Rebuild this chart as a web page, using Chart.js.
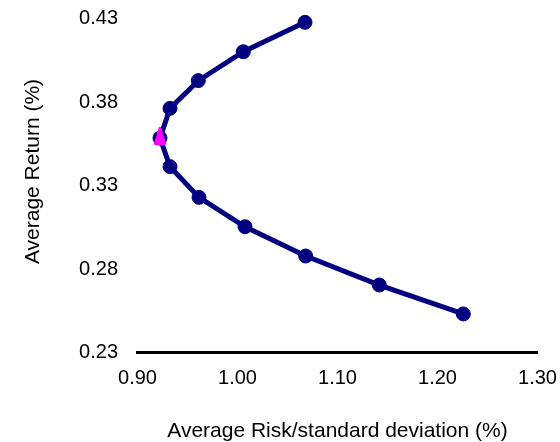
<!DOCTYPE html>
<html>
<head>
<meta charset="utf-8">
<script src="https://cdn.jsdelivr.net/npm/chart.js@4"></script>
<style>
  html, body { margin: 0; padding: 0; background: #ffffff; }
  #wrap { width: 560px; height: 442px; }
</style>
</head>
<body>
<div id="wrap"><canvas id="c" width="560" height="442"></canvas></div>
<script>
// ---- data ----
const riskValues   = [1.0675, 1.0058, 0.9608, 0.9325, 0.9225, 0.9325, 0.9615, 1.0075, 1.0682, 1.1418, 1.2258];
const returnValues = [0.4277, 0.4101, 0.3928, 0.3762, 0.3584, 0.3413, 0.3229, 0.3053, 0.2878, 0.2704, 0.2531];
const minVarRisk   = [0.9225];
const minVarReturn = [0.3584];
const xTickValues  = [0.90, 1.00, 1.10, 1.20, 1.30];
const yTickValues  = [0.23, 0.28, 0.33, 0.38, 0.43];
const xTitle = 'Average Risk/standard deviation (%)';
const yTitle = 'Average Return (%)';

const FONT = '"Liberation Sans", Arial, sans-serif';

// custom tall rounded triangle marker
function makeTriangle() {
  const cv = document.createElement('canvas');
  cv.width = 12; cv.height = 22;
  const g = cv.getContext('2d');
  g.fillStyle = '#FF00FF';
  g.strokeStyle = '#FF00FF';
  g.lineWidth = 3;
  g.lineJoin = 'round';
  g.beginPath();
  g.moveTo(6, 1.5);
  g.lineTo(10.5, 16.5);
  g.lineTo(1.5, 16.5);
  g.closePath();
  g.fill();
  g.stroke();
  return cv;
}

const lineData = riskValues.map((x, i) => ({ x: x, y: returnValues[i] }));
const minData = minVarRisk.map((x, i) => ({ x: x, y: minVarReturn[i] }));

const yTitlePlugin = {
  id: 'yTitle',
  afterDraw(chart) {
    const ctx = chart.ctx;
    ctx.save();
    ctx.translate(33, 171.5);
    ctx.rotate(-Math.PI / 2);
    ctx.font = '21px ' + FONT;
    ctx.fillStyle = '#000000';
    ctx.textAlign = 'center';
    ctx.textBaseline = 'middle';
    ctx.fillText(yTitle, 0, 0);
    ctx.restore();
  }
};

new Chart(document.getElementById('c'), {
  type: 'scatter',
  data: {
    datasets: [
      {
        label: 'Frontier',
        data: lineData,
        showLine: true,
        tension: 0,
        clip: false,
        borderColor: '#000080',
        borderWidth: 5,
        pointRadius: 7,
        pointHoverRadius: 7,
        pointBackgroundColor: '#000080',
        pointBorderColor: '#000080',
        pointBorderWidth: 1,
        order: 2
      },
      {
        label: 'Minimum variance',
        data: minData,
        showLine: false,
        clip: false,
        pointStyle: makeTriangle(),
        pointRadius: 7,
        order: 1
      }
    ]
  },
  options: {
    responsive: false,
    animation: false,
    events: [],
    layout: { autoPadding: false, padding: { left: 0, right: 22.5, top: 18.5, bottom: 0 } },
    plugins: {
      legend: { display: false },
      tooltip: { enabled: false },
      title: { display: false }
    },
    scales: {
      x: {
        type: 'linear',
        position: 'bottom',
        min: 0.9,
        max: 1.3,
        afterBuildTicks(axis) { axis.ticks = xTickValues.map(v => ({ value: v })); },
        afterFit(axis) {
          axis.height = 89.5;
          axis.paddingLeft = 0; axis.paddingRight = 0;
          axis.paddingTop = 0; axis.paddingBottom = 0;
        },
        grid: { display: false, drawTicks: false },
        border: { display: true, color: '#000000', width: 3 },
        ticks: {
          color: '#000000',
          font: { family: FONT, size: 20 },
          padding: 14,
          maxRotation: 0,
          autoSkip: false,
          callback: v => Number(v).toFixed(2)
        },
        title: {
          display: true,
          text: xTitle,
          color: '#000000',
          font: { family: FONT, size: 21, lineHeight: 1 },
          padding: { top: 0, bottom: 0 }
        }
      },
      y: {
        type: 'linear',
        min: 0.23,
        max: 0.43,
        afterBuildTicks(axis) { axis.ticks = yTickValues.map(v => ({ value: v })); },
        afterFit(axis) {
          axis.width = 137.5;
          axis.paddingLeft = 0; axis.paddingRight = 0;
          axis.paddingTop = 0; axis.paddingBottom = 0;
        },
        grid: { display: false, drawTicks: false },
        border: { display: false },
        ticks: {
          color: '#000000',
          font: { family: FONT, size: 20 },
          padding: 19.5,
          autoSkip: false,
          callback: v => Number(v).toFixed(2)
        },
        title: { display: false }
      }
    }
  },
  plugins: [yTitlePlugin]
});
</script>
</body>
</html>
